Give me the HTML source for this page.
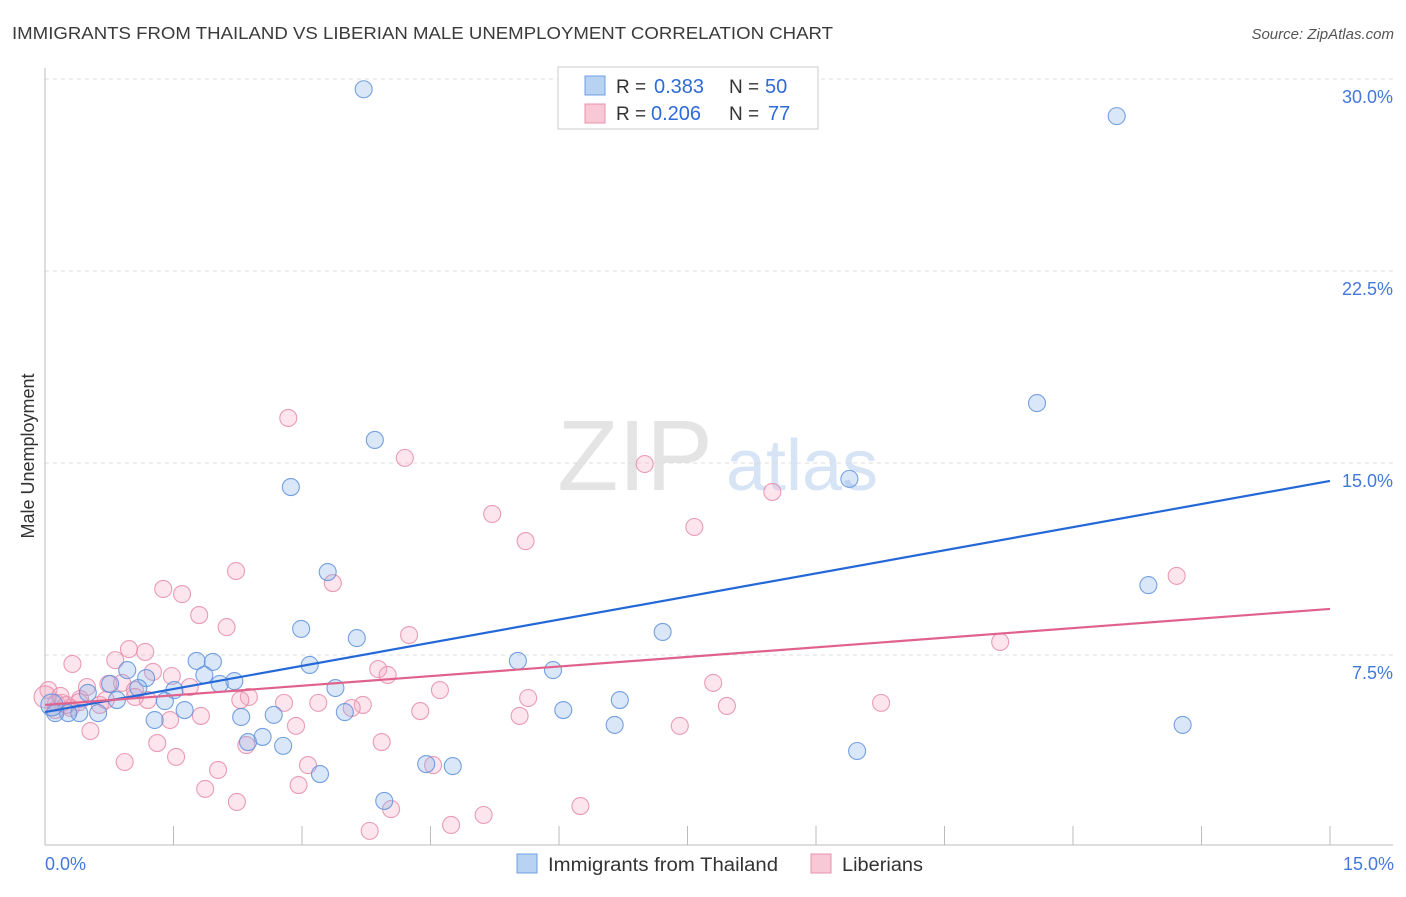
<!DOCTYPE html>
<html><head><meta charset="utf-8"><style>
body{margin:0;background:#fff;font-family:"Liberation Sans",sans-serif}
svg text{font-family:"Liberation Sans",sans-serif}
</style></head><body>
<svg id="c" width="1406" height="892">
<text x="12" y="39" font-size="17.5" fill="#3a3a3a" textLength="821" lengthAdjust="spacingAndGlyphs">IMMIGRANTS FROM THAILAND VS LIBERIAN MALE UNEMPLOYMENT CORRELATION CHART</text>
<text x="1394" y="39" font-size="15" fill="#555" font-style="italic" text-anchor="end">Source: ZipAtlas.com</text>
<text x="635" y="490" font-size="100" fill="#e4e4e4" font-family="Liberation Serif" text-anchor="middle">ZIP</text>
<text x="802" y="490" font-size="72" fill="#d6e4f5" text-anchor="middle">atlas</text>
<text transform="translate(34,456) rotate(-90)" font-size="18" fill="#333" text-anchor="middle">Male Unemployment</text>
<g id="grid"></g><g id="pts"></g><g id="lines"></g>
<g>
<rect x="558" y="67" width="260" height="62" fill="#fff" stroke="#ccc"/>
<rect x="585" y="76" width="20" height="19" fill="#b8d2f3" stroke="#6f9fe0"/>
<rect x="585" y="104" width="20" height="19" fill="#f9c8d7" stroke="#e890ab"/>
<text x="616" y="93" font-size="19" fill="#333">R =</text><text x="654" y="93" font-size="20" fill="#2f6bd8">0.383</text>
<text x="729" y="93" font-size="19" fill="#333">N =</text><text x="765" y="93" font-size="20" fill="#2f6bd8">50</text>
<text x="616" y="120" font-size="19" fill="#333">R =</text><text x="651" y="120" font-size="20" fill="#2f6bd8">0.206</text>
<text x="729" y="120" font-size="19" fill="#333">N =</text><text x="768" y="120" font-size="20" fill="#2f6bd8">77</text>
</g>
<g>
<rect x="517" y="854" width="20" height="19" fill="#b8d2f3" stroke="#6f9fe0"/>
<text x="548" y="871" font-size="19" fill="#333" textLength="230" lengthAdjust="spacingAndGlyphs">Immigrants from Thailand</text>
<rect x="811" y="854" width="20" height="19" fill="#f9c8d7" stroke="#e890ab"/>
<text x="842" y="871" font-size="19" fill="#333" textLength="81" lengthAdjust="spacingAndGlyphs">Liberians</text>
</g>
<text x="45" y="870" font-size="18" fill="#4477dd">0.0%</text>
<text x="1394" y="870" font-size="18" fill="#4477dd" text-anchor="end">15.0%</text>
</svg>
<script>
const yTicks=[7.5,15,22.5,30];
const yTickLabels=["7.5%","15.0%","22.5%","30.0%"];
const blueX=[3.72,12.51,11.58,3.85,2.87,9.39,3.30,12.88,2.99,7.21,3.64,5.52,5.93,3.09,1.77,1.96,0.96,1.18,1.86,2.21,0.76,2.04,1.09,1.51,3.39,0.50,0.84,1.40,6.71,1.63,2.29,2.67,3.50,0.62,1.28,6.05,0.40,0.27,0.12,0.08,6.65,13.28,2.37,2.54,2.78,9.48,3.21,4.45,4.76,3.96];
const blueY=[29.6,28.55,17.34,15.9,14.06,14.38,10.74,10.23,8.52,8.40,8.16,7.27,6.91,7.11,7.27,7.23,6.91,6.60,6.72,6.48,6.37,6.37,6.21,6.13,6.21,6.02,5.74,5.70,5.74,5.35,5.08,5.16,5.27,5.23,4.96,5.35,5.23,5.23,5.23,5.55,4.77,4.77,4.10,4.30,3.95,3.75,2.85,3.24,3.16,1.80];
const pinkX=[2.84,4.20,7.00,8.49,5.22,7.58,5.61,2.23,3.36,1.38,1.60,1.80,13.21,2.12,4.25,11.15,0.32,0.98,1.17,0.82,1.26,1.48,3.89,4.00,7.80,0.74,0.90,0.49,1.69,4.61,2.38,1.05,0.41,5.64,2.79,3.19,3.71,9.76,7.96,3.58,4.38,0.64,1.20,0.20,0.04,0.12,0.30,1.82,1.46,5.54,2.93,7.41,0.53,1.31,3.93,2.35,1.53,3.07,0.93,4.53,2.02,2.96,1.87,2.24,4.04,6.25,5.12,4.74,3.79,1.05,0.13,0.25,2.28,0.0,0.71,0.18,0.40];
const pinkY=[16.76,15.20,14.96,13.87,13.01,12.50,11.95,10.78,10.31,10.08,9.88,9.06,10.59,8.59,8.28,8.01,7.15,7.73,7.62,7.30,6.84,6.68,6.95,6.72,6.41,6.37,6.41,6.25,6.25,6.13,5.86,6.13,5.78,5.82,5.63,5.63,5.55,5.63,5.51,5.43,5.31,5.55,5.74,5.63,6.13,5.35,5.43,5.12,4.96,5.12,4.73,4.73,4.53,4.06,4.10,3.98,3.52,3.20,3.32,3.20,3.01,2.42,2.27,1.76,1.48,1.60,1.25,0.86,0.63,5.86,5.63,5.55,5.74,5.86,5.74,5.90,5.66];
const blueTrend=[5.27,14.3];
const pinkTrend=[5.55,9.30];
const NS="http://www.w3.org/2000/svg";
const X0=45,X1=1330,Y0=847;
function sx(v){return X0+(v/15)*(X1-X0);}
function sy(v){return Y0-v*25.6;}
function mk(t,a,p){const e=document.createElementNS(NS,t);for(const k in a)e.setAttribute(k,a[k]);p.appendChild(e);return e;}
const g=document.getElementById('grid');
yTicks.forEach((t,i)=>{
 const l=mk('line',{x1:45,x2:1393,y1:sy(t),y2:sy(t),stroke:'#ddd','stroke-dasharray':'4,4'},g);
 
 
 const tx=mk('text',{x:1393,y:sy(t)+24,'font-size':18,fill:'#4477dd','text-anchor':'end'},g);
 tx.textContent=yTickLabels[i];
 
 
});
mk('line',{x1:45,x2:45,y1:68,y2:845,stroke:'#bbb'},g);
mk('line',{x1:45,x2:1393,y1:845,y2:845,stroke:'#bbb'},g);
for(let k=1;k<=10;k++){const x=sx(k*1.5);const t=mk('line',{x1:x,x2:x,y1:826,y2:845,stroke:'#bbb'},g);
 
 }
const p=document.getElementById('pts');
pinkX.forEach((v,i)=>{const c=mk('circle',{cx:sx(v),cy:sy(pinkY[i]),r:i==73?11:8.5,fill:'rgba(244,170,195,0.3)',stroke:'rgba(230,140,170,0.85)','stroke-width':1.1},p);
 
 });
blueX.forEach((v,i)=>{const c=mk('circle',{cx:sx(v),cy:sy(blueY[i]),r:i==39?11:8.5,fill:'rgba(130,175,235,0.3)',stroke:'rgba(95,145,220,0.85)','stroke-width':1.1},p);
 
 });
const L=document.getElementById('lines');
const bl=mk('line',{x1:sx(0),y1:sy(blueTrend[0]),x2:sx(15),y2:sy(blueTrend[1]),stroke:'#2468d8','stroke-width':2.2},L);


const pl=mk('line',{x1:sx(0),y1:sy(pinkTrend[0]),x2:sx(15),y2:sy(pinkTrend[1]),stroke:'#e0628c','stroke-width':2.2},L);


</script>
</body></html>
